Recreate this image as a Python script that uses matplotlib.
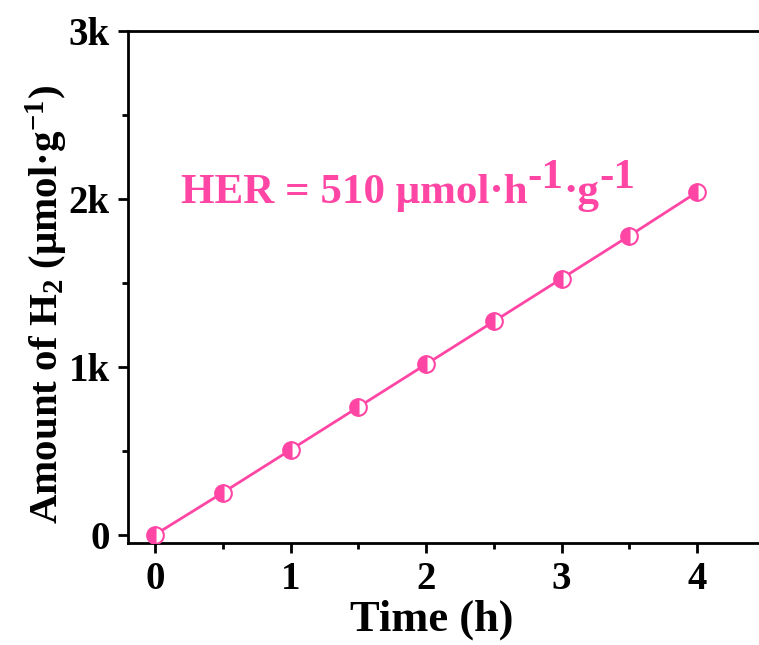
import matplotlib
matplotlib.use("Agg")
import matplotlib.pyplot as plt
from matplotlib.ticker import FixedLocator, MultipleLocator

plt.rcParams['font.family'] = ['Liberation Serif', 'DejaVu Serif']
plt.rcParams['font.weight'] = 'bold'
plt.rcParams['mathtext.fontset'] = 'custom'
plt.rcParams['mathtext.rm'] = 'Liberation Serif:bold'
plt.rcParams['mathtext.bf'] = 'Liberation Serif:bold'
plt.rcParams['mathtext.it'] = 'Liberation Serif:bold'

time_h = [0, 0.5, 1, 1.5, 2, 2.5, 3, 3.5, 4]
h2_amount = [0, 250, 505, 760, 1015, 1270, 1525, 1780, 2040]
y_ticks = [0, 1000, 2000, 3000]
y_tick_labels = ['0', '1k', '2k', '3k']
x_ticks = [0, 1, 2, 3, 4]

pink = '#FF46A5'

fig = plt.figure(figsize=(7.59, 6.45), dpi=100)
W, H = 759, 645
x0px, x1px = 128, 128 + 4.8 * 135.5
ax = fig.add_axes([x0px / W, (645 - 543) / H, (x1px - x0px) / W, (543 - 31) / H])

ax.plot(time_h, h2_amount, color=pink, lw=2, marker='o', ms=12,
        fillstyle='left', markerfacecolor=pink, markerfacecoloralt='white',
        markeredgecolor=pink, markeredgewidth=1.5, zorder=3)

ax.set_xlim(-0.2, 4.6)
ax.set_ylim(-50, 3000)
ax.xaxis.set_major_locator(FixedLocator(x_ticks))
ax.xaxis.set_minor_locator(MultipleLocator(0.5))
ax.set_yticks(y_ticks)
ax.set_yticklabels(y_tick_labels)
ax.yaxis.set_minor_locator(MultipleLocator(500))
ax.tick_params(which='major', direction='out', length=7, width=2, labelsize=28, pad=6)
ax.tick_params(which='minor', direction='out', length=4, width=2)
for s in ax.spines.values():
    s.set_linewidth(2)

ax.set_xlabel('Time (h)', fontsize=32, fontweight='bold')
ax.xaxis.label.set_verticalalignment('center')
ax.xaxis.set_label_coords((432 - x0px) / (x1px - x0px), -(620 - 543) / 512)
ax.set_ylabel('Amount of H$_2$ (μmol·g$^{-1}$)', fontsize=29.5, fontweight='bold')
ax.yaxis.label.set_verticalalignment('center')
ax.yaxis.set_label_coords((47 - x0px) / (x1px - x0px), (543 - 305) / 512)

# HER annotation with full-size raised pieces
fig.canvas.draw()
r = fig.canvas.get_renderer()
fs = 31
pieces = [('HER = 510 μmol·h', 0), ('-1', 15), ('·g', 0), ('-1', 15)]
xpx, ypx = 181, 645 - 203
for txt, dy in pieces:
    t = fig.text(xpx / W, (ypx + dy) / H, txt, fontsize=fs, fontweight='bold', color=pink,
                 ha='left', va='baseline')
    bb = t.get_window_extent(renderer=r)
    xpx = bb.x1

fig.savefig('out.png', dpi=100)
